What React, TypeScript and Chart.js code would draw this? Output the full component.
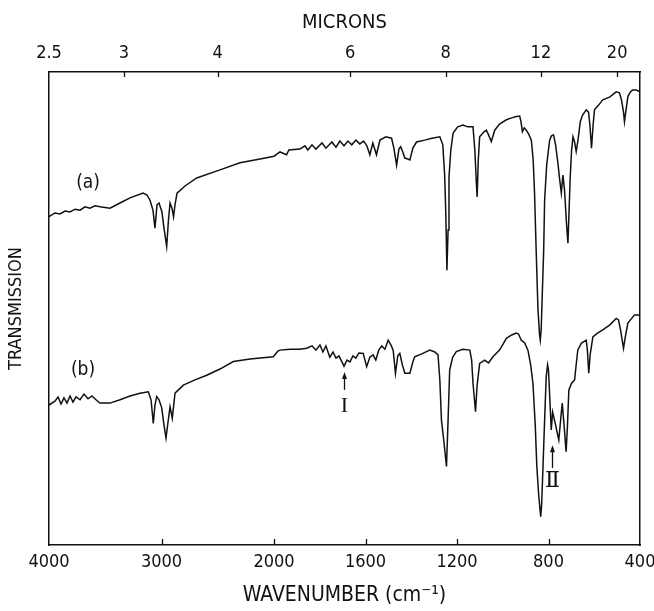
import React, { useEffect, useRef } from "react";
import { Chart, LinearScale, registerables } from "chart.js";

Chart.register(...registerables);

// ---------- data ----------
const waveA = [4000,3947,3902,3858,3813,3769,3724,3680,3636,3591,3547,3458,3369,3280,3164,3129,3102,3076,3058,3040,3022,2996,2978,2954,2938,2924,2907,2893,2880,2862,2791,2687,2480,2302,2124,2000,1974,1945,1935,1887,1865,1852,1834,1817,1790,1773,1747,1729,1712,1694,1677,1660,1642,1625,1608,1594,1581,1568,1552,1537,1511,1486,1476,1464,1454,1446,1437,1428,1415,1406,1393,1377,1341,1310,1275,1262,1254,1249,1244,1239,1235,1227,1217,1197,1174,1153,1130,1122,1116,1112,1107,1101,1083,1072,1062,1050,1035,1014,984,961,941,926,920,914,906,897,887,875,867,861,854,846,839,836,832,827,821,817,808,795,787,778,769,759,752,744,737,730,721,715,710,705,699,693,686,679,671,661,651,635,625,619,612,605,599,581,563,533,504,490,481,472,468,461,453,442,432,416,400];
const transA = [69.4,70.2,70.0,70.6,70.4,71.0,70.8,71.5,71.2,71.7,71.5,71.2,72.3,73.4,74.4,74.0,72.9,70.8,67.0,71.9,72.3,70.4,67.0,63.1,68.7,72.3,71.2,69.4,71.9,74.4,75.9,77.6,79.3,80.8,81.6,82.2,83.1,82.5,83.5,83.7,84.4,83.5,84.6,83.7,85.0,83.9,85.2,84.1,85.4,84.4,85.4,84.6,85.6,84.8,85.4,84.4,82.5,85.0,82.5,85.6,86.3,86.0,83.9,80.3,83.7,84.2,83.1,81.8,81.6,81.4,83.9,85.2,85.6,86.0,86.3,84.6,78.2,70.2,58.1,66.6,77.8,83.5,87.1,88.4,88.8,88.4,88.4,83.5,77.2,73.6,81.4,86.3,87.3,87.7,86.7,85.3,87.7,89.0,89.9,90.3,90.6,90.7,89.4,87.4,88.2,87.7,86.9,85.6,81.4,74.4,62.4,49.7,44.4,43.3,45.5,53.3,62.4,72.9,80.3,85.6,86.5,86.7,84.6,80.8,77.6,74.4,78.2,75.1,67.7,63.8,70.8,77.9,83.5,86.3,85.2,83.2,85.6,89.5,90.9,92.0,91.5,88.8,83.9,88.8,92.0,93.0,94.1,94.7,95.8,95.6,94.1,91.5,89.5,92.0,94.8,95.8,96.2,96.2,95.8];

const waveB = [4000,3947,3920,3893,3867,3840,3813,3787,3760,3724,3689,3653,3618,3582,3547,3458,3369,3280,3191,3117,3093,3073,3058,3043,3022,2998,2978,2960,2942,2924,2904,2880,2806,2702,2598,2480,2362,2213,2006,1983,1974,1930,1887,1857,1834,1817,1799,1786,1773,1756,1742,1729,1716,1703,1694,1681,1668,1655,1642,1629,1610,1595,1581,1567,1555,1542,1529,1515,1501,1489,1479,1469,1459,1450,1439,1428,1406,1393,1385,1354,1319,1297,1283,1275,1268,1258,1246,1239,1232,1219,1203,1175,1144,1136,1130,1119,1112,1101,1079,1062,1043,1014,984,961,941,931,919,904,890,878,868,858,851,843,834,830,824,817,810,804,800,794,788,782,777,769,760,755,747,740,732,723,717,711,699,686,679,672,656,635,630,624,618,606,586,563,533,504,494,485,478,472,465,453,442,424,405,400];
const transB = [29.6,30.4,31.3,29.8,31.1,30.0,31.5,30.2,31.3,30.7,31.9,30.9,31.5,30.7,30.0,30.0,30.7,31.5,32.1,32.4,30.7,25.7,29.6,31.4,30.7,29.0,25.4,22.6,26.0,29.2,26.8,32.1,33.8,34.9,35.9,37.2,38.8,39.3,39.8,41.0,41.2,41.4,41.4,41.6,42.1,41.2,42.3,40.8,42.1,39.7,40.8,39.5,40.0,38.7,37.8,39.1,38.7,40.0,39.5,40.6,40.5,37.7,39.7,40.2,39.1,41.2,42.1,41.4,43.3,42.3,41.2,36.3,40.0,40.5,38.1,36.3,36.3,38.7,39.8,40.4,41.2,40.8,40.2,34.9,26.4,22.2,16.6,26.4,37.0,39.7,40.9,41.4,41.2,39.1,34.2,28.2,33.8,38.4,39.1,38.5,39.8,41.2,43.7,44.4,44.8,44.6,43.3,42.7,41.2,38.1,34.2,25.4,16.6,10.6,6.0,8.5,16.6,26.4,35.6,38.1,37.0,30.7,24.3,28.1,27.1,25.4,23.3,22.2,26.4,30.0,25.4,19.7,25.4,32.8,34.2,34.9,38.1,41.2,42.7,43.3,41.2,36.3,40.2,44.0,44.8,45.5,46.5,47.9,47.6,45.5,43.3,41.6,43.8,46.9,47.6,48.6,48.6,48.4];

const waveTicks = [4000, 3000, 2000, 1600, 1200, 800, 400];
const micronTicks = [2.5, 3, 4, 6, 8, 12, 20];
const micronLabels = ["2.5", "3", "4", "6", "8", "12", "20"];

// annotations (wavenumber, transmission)
const seriesLabels = [
  { text: "(a)", wave: 3653, t: 76.5 },
  { text: "(b)", wave: 3698, t: 37.0 },
];
const arrowMarks = [
  { text: "I", wave: 1693, tip: 36.6, tail: 32.8, labelT: 29.4 },
  { text: "\u2161", wave: 783, tip: 21.1, tail: 16.3, labelT: 13.5 },
];

// ---------- styles ----------
const FONT = "'Liberation Sans Narrow', 'DejaVu Sans Condensed', 'Arial Narrow', sans-serif";
const SERIF = "'Liberation Serif', 'DejaVu Serif', serif";
const INK = "#111";

// Spectrometer abscissa: 4000-2000 cm-1 at half the scale of 2000-400 cm-1
const BREAK = 2000;
const FRAC = 225 / 591;

class IrWaveScale extends LinearScale {
  static id = "irwave";
  static defaults = LinearScale.defaults;
  getPixelForValue(value: number) {
    if (value === null || value === undefined || isNaN(value)) return NaN;
    const min = this.min, max = this.max;
    let d;
    if (value >= BREAK) d = ((max - value) / (max - BREAK)) * FRAC;
    else d = FRAC + ((BREAK - value) / (BREAK - min)) * (1 - FRAC);
    return this.left + d * this.width;
  }
  getValueForPixel(pixel: number) {
    const d = (pixel - this.left) / this.width;
    if (d <= FRAC) return this.max - (d / FRAC) * (this.max - BREAK);
    return BREAK - ((d - FRAC) / (1 - FRAC)) * (BREAK - this.min);
  }
}
Chart.register(IrWaveScale as any);

const inwardTicks = {
  id: "inwardTicks",
  afterDatasetsDraw(chart: any) {
    const { ctx, chartArea } = chart;
    ctx.save();
    ctx.strokeStyle = INK;
    ctx.lineWidth = 1.3;
    const bx = chart.scales.x;
    waveTicks.slice(1, -1).forEach((v) => {
      const p = Math.round(bx.getPixelForValue(v)) + 0.5;
      ctx.beginPath();
      ctx.moveTo(p, chartArea.bottom);
      ctx.lineTo(p, chartArea.bottom - 6);
      ctx.stroke();
    });
    const tx = chart.scales.x2;
    micronTicks.slice(1).forEach((m) => {
      const p = Math.round(tx.getPixelForValue(10000 / m)) + 0.5;
      ctx.beginPath();
      ctx.moveTo(p, chartArea.top);
      ctx.lineTo(p, chartArea.top + 5);
      ctx.stroke();
    });
    ctx.restore();
  },
};

const annotations = {
  id: "annotations",
  afterDatasetsDraw(chart: any) {
    const { ctx } = chart;
    const xs = chart.scales.x;
    const ys = chart.scales.y;
    ctx.save();
    ctx.fillStyle = INK;
    ctx.strokeStyle = INK;
    ctx.textAlign = "center";
    ctx.textBaseline = "middle";
    ctx.font = `19px ${FONT}`;
    seriesLabels.forEach((l) => {
      ctx.fillText(l.text, xs.getPixelForValue(l.wave), ys.getPixelForValue(l.t));
    });
    arrowMarks.forEach((a) => {
      const x = Math.round(xs.getPixelForValue(a.wave)) + 0.5;
      const yTip = ys.getPixelForValue(a.tip);
      const yTail = ys.getPixelForValue(a.tail);
      ctx.lineWidth = 1.3;
      ctx.beginPath();
      ctx.moveTo(x, yTail);
      ctx.lineTo(x, yTip + 4);
      ctx.stroke();
      ctx.beginPath();
      ctx.moveTo(x, yTip);
      ctx.lineTo(x - 2.5, yTip + 7);
      ctx.lineTo(x + 2.5, yTip + 7);
      ctx.closePath();
      ctx.fill();
      ctx.font = `22px ${SERIF}`;
      ctx.fillText(a.text, x, ys.getPixelForValue(a.labelT));
    });
    ctx.restore();
  },
};

function fixSize(prop: "width" | "height", size: number) {
  return (s: any) => {
    s[prop] = size;
    s.paddingLeft = 0;
    s.paddingRight = 0;
    s.paddingTop = 0;
    s.paddingBottom = 0;
  };
}

export default function App() {
  const ref = useRef<HTMLCanvasElement>(null);
  useEffect(() => {
    if (!ref.current) return;
    const border = { display: true, color: INK, width: 1.5 };
    const chart = new Chart(ref.current, {
      type: "line",
      data: {
        datasets: [
          {
            label: "(a)",
            data: waveA.map((w, i) => ({ x: w, y: transA[i] })),
            borderColor: INK,
            borderWidth: 1.5,
            pointRadius: 0,
            tension: 0,
            fill: false,
          },
          {
            label: "(b)",
            data: waveB.map((w, i) => ({ x: w, y: transB[i] })),
            borderColor: INK,
            borderWidth: 1.5,
            pointRadius: 0,
            tension: 0,
            fill: false,
          },
        ],
      },
      options: {
        animation: false,
        responsive: false,
        devicePixelRatio: 1,
        events: [],
        layout: { padding: 0 },
        plugins: { legend: { display: false }, tooltip: { enabled: false } },
        scales: {
          x: {
            type: "irwave" as any,
            position: "bottom",
            min: 400,
            max: 4000,
            afterBuildTicks: (s: any) => {
              s.ticks = waveTicks.map((v) => ({ value: v }));
            },
            afterFit: fixSize("height", 66),
            grid: { display: false, drawTicks: false },
            border,
            ticks: {
              autoSkip: false,
              maxRotation: 0,
              padding: 7,
              color: INK,
              font: { family: FONT, size: 18 },
              callback: (v: any) => String(v),
            },
            title: {
              display: true,
              text: "WAVENUMBER (cm\u207B\u00B9)",
              color: INK,
              font: { family: FONT, size: 21 },
              padding: { top: 0, bottom: 3 },
            },
          },
          x2: {
            type: "irwave" as any,
            position: "top",
            min: 400,
            max: 4000,
            afterBuildTicks: (s: any) => {
              s.ticks = micronTicks.map((m) => ({ value: 10000 / m }));
            },
            afterFit: fixSize("height", 72),
            grid: { display: false, drawTicks: false },
            border,
            ticks: {
              autoSkip: false,
              maxRotation: 0,
              padding: 8,
              color: INK,
              font: { family: FONT, size: 18 },
              callback: (_v: any, i: number) => micronLabels[i],
            },
            title: {
              display: true,
              text: "MICRONS",
              color: INK,
              font: { family: FONT, size: 20 },
              padding: { top: 11, bottom: 0 },
            },
          },
          y: {
            type: "linear",
            position: "left",
            min: 0,
            max: 100,
            afterFit: fixSize("width", 49),
            grid: { display: false, drawTicks: false },
            border,
            ticks: { display: false },
            title: {
              display: true,
              text: "TRANSMISSION",
              color: INK,
              font: { family: FONT, size: 18 },
              padding: { top: 6, bottom: 0 },
            },
          },
          y2: {
            type: "linear",
            position: "right",
            min: 0,
            max: 100,
            afterFit: fixSize("width", 14),
            grid: { display: false, drawTicks: false },
            border,
            ticks: { display: false },
          },
        },
      } as any,
      plugins: [inwardTicks, annotations],
    });
    return () => chart.destroy();
  }, []);
  return (
    <div style={{ position: "fixed", left: 0, top: 0, width: 654, height: 611, background: "#fff" }}>
      <canvas ref={ref} width={654} height={611} style={{ display: "block", width: 654, height: 611 }} />
    </div>
  );
}
